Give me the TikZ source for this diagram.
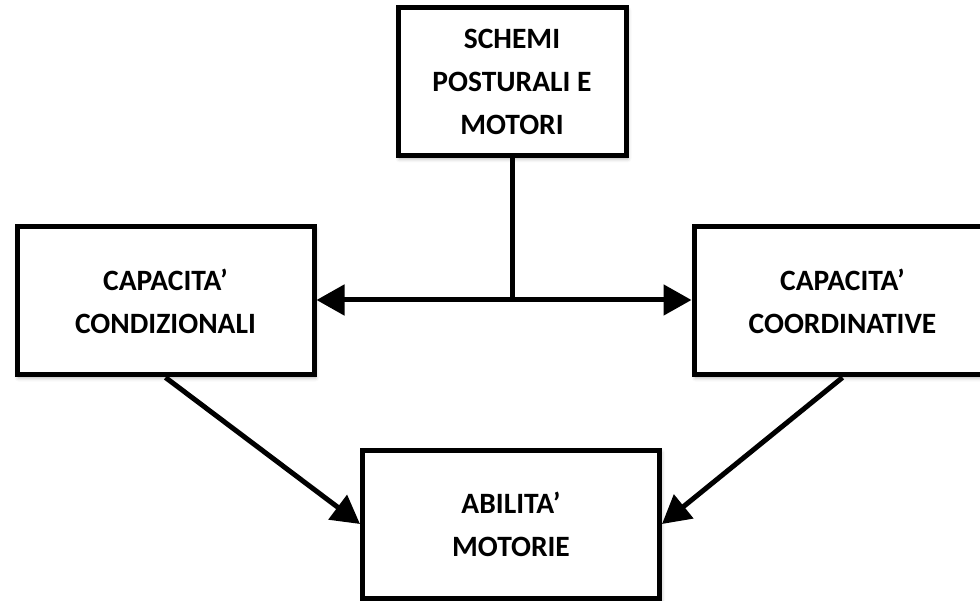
\documentclass[tikz,border=0pt]{standalone}
\usepackage{fontspec}
\setmainfont{Carlito}
\usepackage{tikz}
\usetikzlibrary{arrows.meta,shadows.blur}

\begin{document}
\begin{tikzpicture}[x=1pt,y=-1pt,
    blocco/.style={draw,line width=5pt,fill=white,
      minimum width=297pt,minimum height=148pt,align=center,
      font=\bfseries\fontsize{29.5}{43}\selectfont,
      blur shadow={shadow xshift=1.5pt,shadow yshift=-2.5pt,
        shadow blur radius=4pt,shadow opacity=35}},
    freccia/.style={line width=5pt,-{Triangle[length=28pt,width=30pt]}}]
  \useasboundingbox (0,0) rectangle (980,601);

  \node[blocco,minimum width=228pt] (schemi) at (512,82) {SCHEMI\\POSTURALI E\\MOTORI};
  \node[blocco] (condizionali) at (165.5,301) {CAPACITA’\\CONDIZIONALI};
  \node[blocco] (coordinative) at (842.5,301) {CAPACITA’\\COORDINATIVE};
  \node[blocco] (abilita) at (511,524) {ABILITA’\\MOTORIE};

  % schemi scende fino alla freccia doppia
  \coordinate (giunzione) at (schemi.south |- 0,300);
  \draw[line width=5pt] (schemi.south) -- (giunzione);
  \draw[freccia,{Triangle[length=28pt,width=30pt]}-{Triangle[length=28pt,width=30pt]}]
    (condizionali.east |- giunzione) -- (coordinative.west |- giunzione);

  \draw[freccia] (condizionali.south) -- (abilita.west);
  \draw[freccia] (coordinative.south) -- (abilita.east);
\end{tikzpicture}
\end{document}
